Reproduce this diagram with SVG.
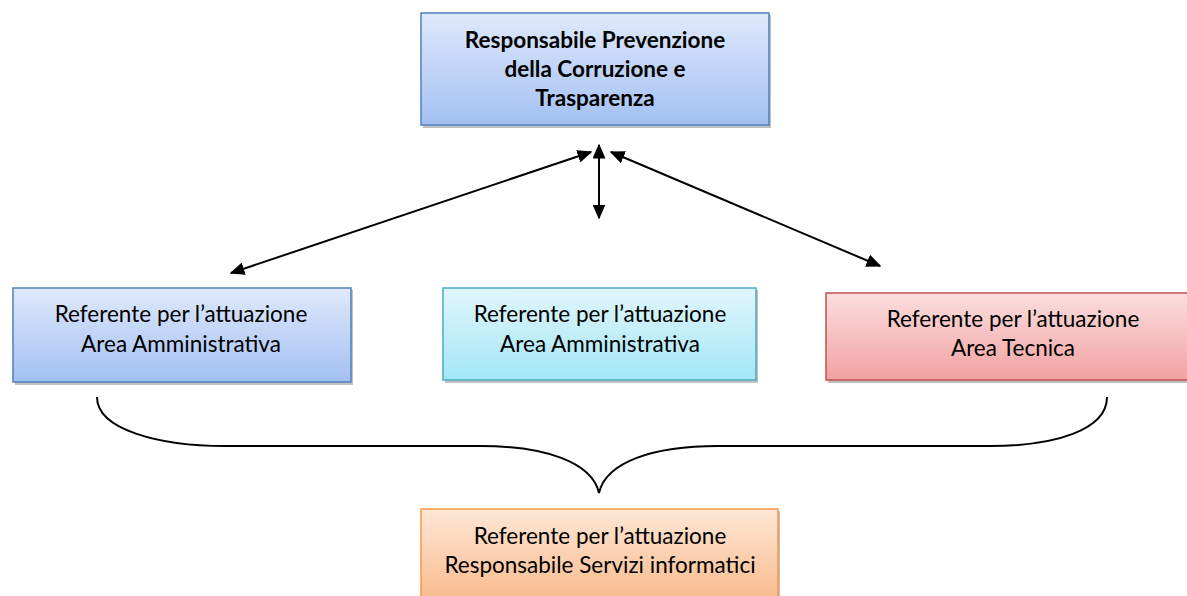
<svg xmlns="http://www.w3.org/2000/svg" width="1187" height="596" viewBox="0 0 1187 596">
<defs>
<linearGradient id="gBlue" x1="0" y1="0" x2="0" y2="1"><stop offset="0" stop-color="#dfe9fb"/><stop offset="1" stop-color="#a3c0f3"/></linearGradient>
<linearGradient id="gCyan" x1="0" y1="0" x2="0" y2="1"><stop offset="0" stop-color="#e1f6fc"/><stop offset="1" stop-color="#a3e6f6"/></linearGradient>
<linearGradient id="gRed" x1="0" y1="0" x2="0" y2="1"><stop offset="0" stop-color="#fbdede"/><stop offset="1" stop-color="#f2a1a1"/></linearGradient>
<linearGradient id="gOrange" x1="0" y1="0" x2="0" y2="1"><stop offset="0" stop-color="#fde7d6"/><stop offset="1" stop-color="#f9b98a"/></linearGradient>
<marker id="ah" viewBox="0 0 10 10" refX="9" refY="5" markerWidth="15" markerHeight="13" markerUnits="userSpaceOnUse" orient="auto-start-reverse" preserveAspectRatio="none"><path d="M0,0 L10,5 L0,10 Z" fill="#000"/></marker>
</defs>
<style>
.sh{fill:#a6a6a6;opacity:0.7}
.t{font-family:Lato,"Open Sans","Liberation Sans",sans-serif;font-size:22.5px;fill:#000;text-anchor:middle}
.b{font-weight:bold}
.c{fill:none;stroke:#000;stroke-width:2}
</style>
<rect width="1187" height="596" fill="#fff"/>
<g id="top">
<rect class="sh" x="423" y="15" width="348" height="113"/>
<rect x="421" y="13" width="348" height="112" fill="url(#gBlue)" stroke="#4f81bd" stroke-width="1.5"/>
<text class="t b" x="595" y="48">Responsabile Prevenzione</text>
<text class="t b" x="595" y="77">della Corruzione e</text>
<text class="t b" x="595" y="106">Trasparenza</text>
</g>
<g id="left">
<rect class="sh" x="15" y="290" width="338" height="95"/>
<rect x="13" y="288" width="338" height="94" fill="url(#gBlue)" stroke="#4f81bd" stroke-width="1.5"/>
<text class="t" x="181" y="322">Referente per l’attuazione</text>
<text class="t" x="181" y="352">Area Amministrativa</text>
</g>
<g id="middle">
<rect class="sh" x="445" y="290" width="313" height="93"/>
<rect x="443" y="288" width="313" height="92" fill="url(#gCyan)" stroke="#4bacc6" stroke-width="1.5"/>
<text class="t" x="600" y="322">Referente per l’attuazione</text>
<text class="t" x="600" y="352">Area Amministrativa</text>
</g>
<g id="right">
<rect class="sh" x="828" y="295" width="380" height="88"/>
<rect x="826" y="293" width="380" height="87" fill="url(#gRed)" stroke="#c0504d" stroke-width="1.5"/>
<text class="t" x="1013" y="327">Referente per l’attuazione</text>
<text class="t" x="1013" y="356">Area Tecnica</text>
</g>
<g id="bottom">
<rect class="sh" x="423" y="511" width="357" height="95"/>
<rect x="421" y="509" width="357" height="95" fill="url(#gOrange)" stroke="#f79646" stroke-width="1.5"/>
<text class="t" x="600" y="544">Referente per l’attuazione</text>
<text class="t" x="600" y="573">Responsabile Servizi informatici</text>
</g>
<g id="connectors">
<line class="c" x1="231" y1="273" x2="591" y2="152" marker-start="url(#ah)" marker-end="url(#ah)"/>
<line class="c" x1="599" y1="145" x2="599" y2="218" marker-start="url(#ah)" marker-end="url(#ah)"/>
<line class="c" x1="611" y1="152" x2="880" y2="266" marker-start="url(#ah)" marker-end="url(#ah)"/>
<path class="c" d="M97,397 C97,430 160,446 225,446 L480,446 C545,446 592,462 599,493 C606,462 653,446 718,446 L990,446 C1055,446 1107,430 1107,397"/>
</g>
</svg>
